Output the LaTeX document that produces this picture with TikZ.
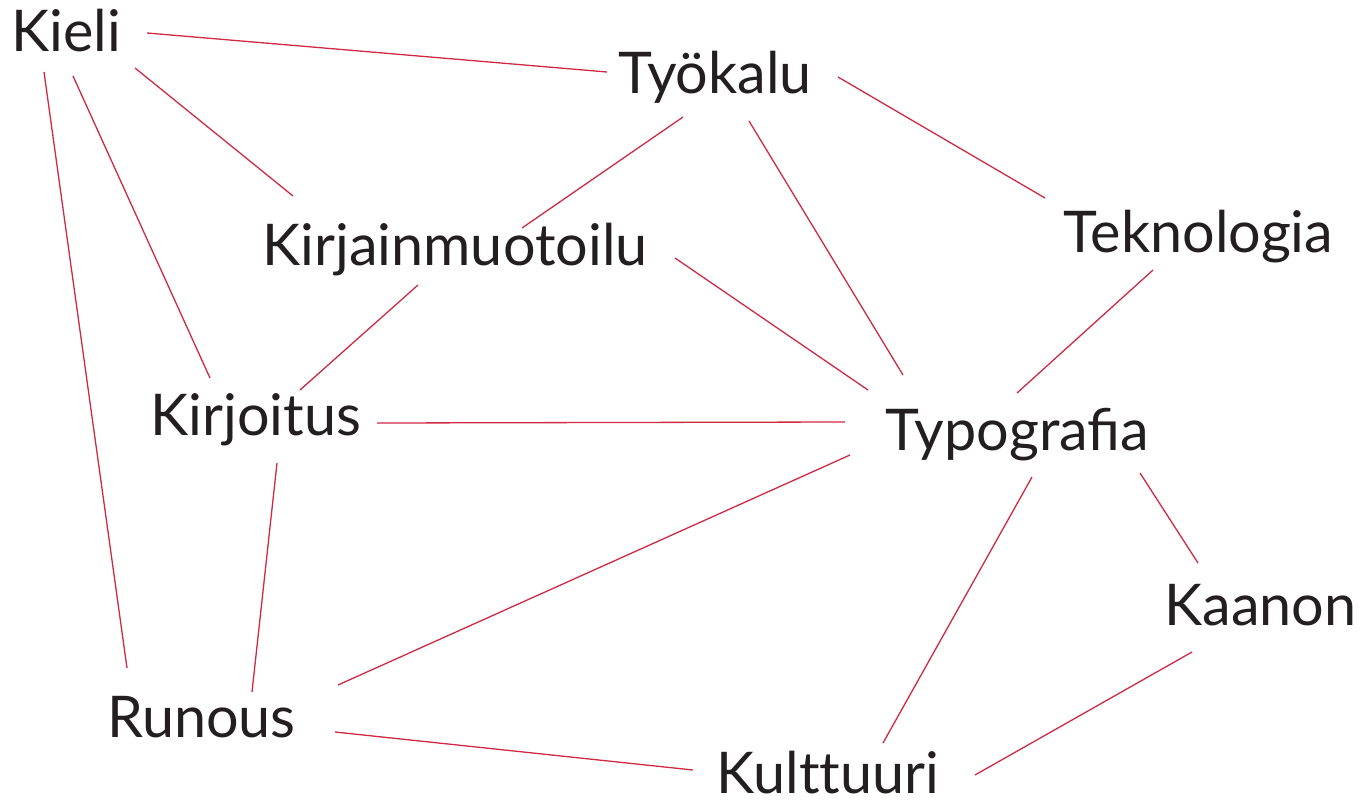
\documentclass[tikz,border=0pt]{standalone}
\usepackage{fontspec}
\setmainfont{Lato}
\definecolor{linkred}{HTML}{CF2A43}
\definecolor{ink}{HTML}{231F20}
\begin{document}
\begin{tikzpicture}[x=1pt,y=-1pt,
  term/.style={anchor=base,inner sep=0pt,text depth=0pt,text=ink,font=\fontsize{57.5}{68}\selectfont},
  link/.style={draw=linkred,line width=1.3pt}]
\useasboundingbox (0,0) rectangle (1364,800);
\node[term] (kieli) at (66,52) {Kieli};
\node[term] (tyokalu) at (715,93) {Työkalu};
\node[term] (kirjain) at (455,265) {Kirjainmuotoilu};
\node[term] (tekno) at (1198.5,252) {Teknologia};
\node[term] (kirjoitus) at (256,435) {Kirjoitus};
\node[term] (typo) at (1017.5,450) {Typografia};
\node[term] (kaanon) at (1260.5,625) {Kaanon};
\node[term] (runous) at (201.5,737) {Runous};
\node[term] (kulttuuri) at (828,793) {Kult\kern0pt tuuri};

\draw[link] ([shift={(81,-19)}]kieli.base) -- ([shift={(-108,-21)}]tyokalu.base);
\draw[link] ([shift={(69,16)}]kieli.base) -- ([shift={(-162,-69)}]kirjain.base);
\draw[link] ([shift={(7,24)}]kieli.base) -- ([shift={(-46,-57)}]kirjoitus.base);
\draw[link] ([shift={(-22,20)}]kieli.base) -- ([shift={(-74.5,-69)}]runous.base);
\draw[link] ([shift={(-32,24)}]tyokalu.base) -- ([shift={(67,-37)}]kirjain.base);
\draw[link] ([shift={(34,28)}]tyokalu.base) -- ([shift={(-114.5,-75)}]typo.base);
\draw[link] ([shift={(123,-16)}]tyokalu.base) -- ([shift={(-153.5,-54)}]tekno.base);
\draw[link] ([shift={(220,-7)}]kirjain.base) -- ([shift={(-149.5,-60)}]typo.base);
\draw[link] ([shift={(-37,20)}]kirjain.base) -- ([shift={(44,-45)}]kirjoitus.base);
\draw[link] ([shift={(-45.5,18)}]tekno.base) -- ([shift={(-0.5,-57)}]typo.base);
\draw[link] ([shift={(121,-12)}]kirjoitus.base) -- ([shift={(-172.5,-28)}]typo.base);
\draw[link] ([shift={(21,28)}]kirjoitus.base) -- ([shift={(50.5,-45)}]runous.base);
\draw[link] ([shift={(-167.5,5)}]typo.base) -- ([shift={(136.5,-52)}]runous.base);
\draw[link] ([shift={(14.5,27)}]typo.base) -- ([shift={(55,-50)}]kulttuuri.base);
\draw[link] ([shift={(122.5,23)}]typo.base) -- ([shift={(-62.5,-62)}]kaanon.base);
\draw[link] ([shift={(-68.5,27)}]kaanon.base) -- ([shift={(147,-18)}]kulttuuri.base);
\draw[link] ([shift={(133.5,-5)}]runous.base) -- ([shift={(-135,-23)}]kulttuuri.base);
\end{tikzpicture}
\end{document}
